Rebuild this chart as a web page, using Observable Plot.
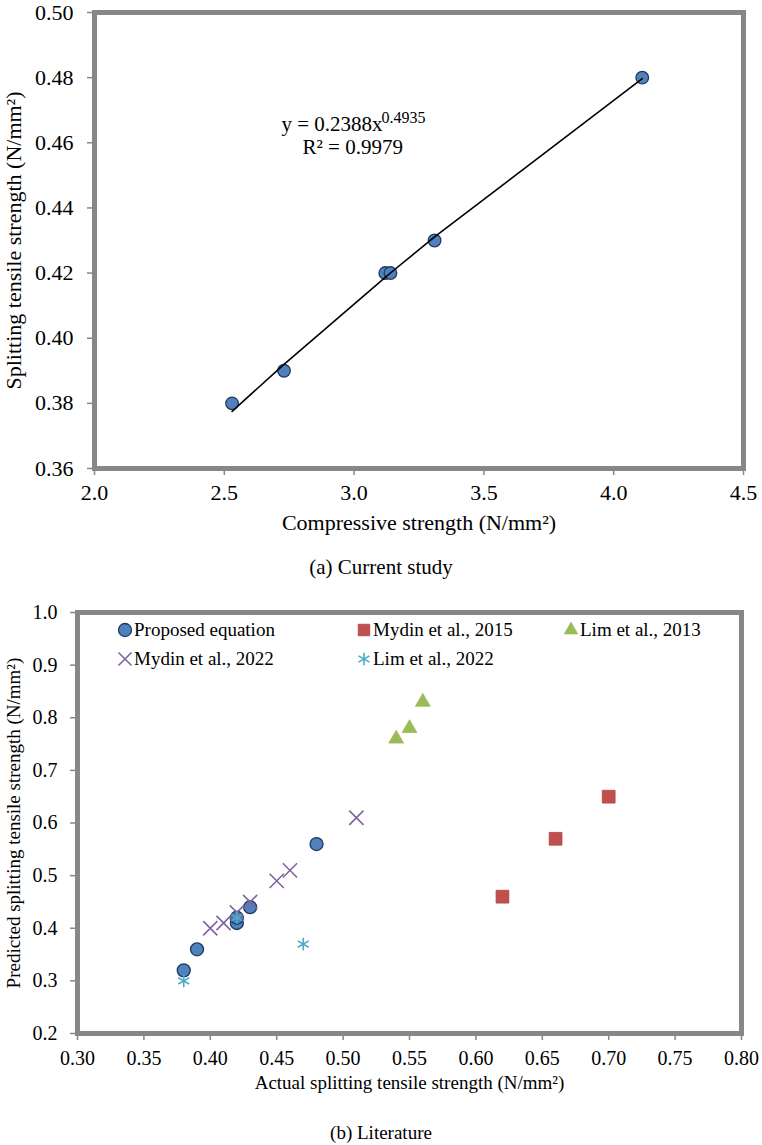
<!DOCTYPE html>
<html><head><meta charset="utf-8">
<script src="https://cdn.jsdelivr.net/npm/d3@7"></script>
<script src="https://cdn.jsdelivr.net/npm/@observablehq/plot@0.6"></script>
<style>
body{margin:0;background:#fff;}
#wrap{position:relative;width:762px;height:1145px;font-family:"Liberation Serif","Times New Roman",serif;color:#000;overflow:hidden;}
.plot{position:absolute;left:0;}
.cap{position:absolute;left:0;width:762px;text-align:center;line-height:22px;}
.leg{position:absolute;font-size:19px;line-height:20px;display:flex;align-items:center;white-space:nowrap;}
.leg svg{margin-right:1px;}
</style></head><body><div id="wrap"></div>
<script>
// ---------- (a) Current study ----------
const compressive = [2.53, 2.73, 3.12, 3.14, 3.31, 4.11];
const splitting   = [0.38, 0.39, 0.42, 0.42, 0.43, 0.48];
const fitA = 0.2388, fitB = 0.4935, fitR2 = 0.9979;
const topXTicks = [2.0, 2.5, 3.0, 3.5, 4.0, 4.5];
const topYTicks = [0.36, 0.38, 0.40, 0.42, 0.44, 0.46, 0.48, 0.50];
const topXLabel = "Compressive strength (N/mm²)";
const topYLabel = "Splitting tensile strength (N/mm²)";
const topCaption = "(a) Current study";

// ---------- (b) Literature ----------
const seriesNames = ["Proposed equation", "Mydin et al., 2015", "Lim et al., 2013", "Mydin et al., 2022", "Lim et al., 2022"];
const proposedActual  = [0.38, 0.39, 0.42, 0.42, 0.43, 0.48];
const proposedPred    = [0.32, 0.36, 0.41, 0.42, 0.44, 0.56];
const mydin2015Actual = [0.62, 0.66, 0.70];
const mydin2015Pred   = [0.46, 0.57, 0.65];
const lim2013Actual   = [0.54, 0.55, 0.56];
const lim2013Pred     = [0.76, 0.78, 0.83];
const mydin2022Actual = [0.40, 0.41, 0.42, 0.43, 0.45, 0.46, 0.51];
const mydin2022Pred   = [0.40, 0.41, 0.43, 0.45, 0.49, 0.51, 0.61];
const lim2022Actual   = [0.38, 0.42, 0.47];
const lim2022Pred     = [0.30, 0.42, 0.37];
const botXTicks = [0.30, 0.35, 0.40, 0.45, 0.50, 0.55, 0.60, 0.65, 0.70, 0.75, 0.80];
const botYTicks = [0.2, 0.3, 0.4, 0.5, 0.6, 0.7, 0.8, 0.9, 1.0];
const botXLabel = "Actual splitting tensile strength (N/mm²)";
const botYLabel = "Predicted splitting tensile strength (N/mm²)";
const botCaption = "(b) Literature";

const FONT = '"Liberation Serif","Times New Roman",serif';
const GRID = "#878787";
const BLUE = "#4f81bd", BLUE_EDGE = "#1f3a60", RED = "#c0504d", GREEN = "#9bbb59", PURPLE = "#8064a2", AQUA = "#4bacc6";

const wrap = document.getElementById("wrap");
const zip = (a, b) => a.map((v, i) => ({x: v, y: b[i]}));

// trend line evaluated from the fitted equation shown on the chart, at the measured x values
const trend = compressive.map(x => ({x, y: fitA * Math.pow(x, fitB)}));

const topPlot = Plot.plot({
  width: 762, height: 540,
  marginLeft: 94, marginRight: 19, marginTop: 12, marginBottom: 72,
  style: {fontFamily: FONT, fontSize: "22px", background: "transparent", overflow: "visible", color: "#000"},
  x: {domain: [2.0, 4.5]},
  y: {domain: [0.36, 0.50]},
  marks: [
    Plot.axisX({ticks: topXTicks, tickFormat: d => d.toFixed(1), tickSize: 7, tickPadding: 9, stroke: GRID, strokeWidth: 1.5, fill: "#000", label: null, fontSize: 22}),
    Plot.axisY({ticks: topYTicks, tickFormat: d => d.toFixed(2), tickSize: 7, tickPadding: 14, stroke: GRID, strokeWidth: 1.5, fill: "#000", label: null, fontSize: 22}),
    Plot.frame({stroke: GRID, strokeWidth: 5}),
    Plot.dot(zip(compressive, splitting), {x: "x", y: "y", r: 6.3, fill: BLUE, stroke: BLUE_EDGE, strokeWidth: 1.3}),
    Plot.line(trend, {x: "x", y: "y", stroke: "#000", strokeWidth: 1.6}),
    Plot.text([`y = ${fitA}x`], {frameAnchor: "top-left", textAnchor: "start", lineAnchor: "middle", dx: 187, dy: 112, fontSize: 21, fill: "#000"}),
    Plot.text([`${fitB}`], {frameAnchor: "top-left", textAnchor: "start", lineAnchor: "middle", dx: 287, dy: 105, fontSize: 16, fill: "#000"}),
    Plot.text([`R² = ${fitR2}`], {frameAnchor: "top-left", textAnchor: "start", lineAnchor: "middle", dx: 208, dy: 135, fontSize: 21, fill: "#000"}),
    Plot.text([topXLabel], {frameAnchor: "bottom", textAnchor: "middle", lineAnchor: "middle", dy: 54, fontSize: 22, fill: "#000"}),
    Plot.text([topYLabel], {frameAnchor: "left", textAnchor: "middle", lineAnchor: "middle", rotate: -90, dx: -81, fontSize: 22, fill: "#000"})
  ]
});
topPlot.classList.add("plot");
topPlot.style.top = "0px";
wrap.appendChild(topPlot);

const botTop = 590;
const botPlot = Plot.plot({
  width: 762, height: 520,
  marginLeft: 77, marginRight: 21, marginTop: 22, marginBottom: 77,
  style: {fontFamily: FONT, fontSize: "19px", background: "transparent", overflow: "visible", color: "#000"},
  x: {domain: [0.30, 0.80]},
  y: {domain: [0.2, 1.0]},
  marks: [
    Plot.axisX({ticks: botXTicks, tickFormat: d => d.toFixed(2), tickSize: 7, tickPadding: 10, stroke: GRID, strokeWidth: 1.5, fill: "#000", label: null, fontSize: 20}),
    Plot.axisY({ticks: botYTicks, tickFormat: d => d.toFixed(1), tickSize: 7, tickPadding: 13, stroke: GRID, strokeWidth: 1.5, fill: "#000", label: null, fontSize: 20}),
    Plot.frame({stroke: GRID, strokeWidth: 5}),
    Plot.dot(zip(proposedActual, proposedPred), {x: "x", y: "y", r: 6.5, fill: BLUE, stroke: BLUE_EDGE, strokeWidth: 1.3}),
    Plot.dot(zip(mydin2015Actual, mydin2015Pred), {x: "x", y: "y", symbol: "square", r: 7.2, fill: RED, stroke: "#b5403d", strokeWidth: 0.8}),
    Plot.dot(zip(lim2013Actual, lim2013Pred), {x: "x", y: "y", symbol: "triangle", r: 5.5, fill: GREEN, stroke: GREEN, strokeWidth: 0.8}),
    Plot.dot(zip(mydin2022Actual, mydin2022Pred), {x: "x", y: "y", symbol: "times", r: 6.5, stroke: PURPLE, strokeWidth: 1.6}),
    Plot.dot(zip(lim2022Actual, lim2022Pred), {x: "x", y: "y", symbol: "asterisk", r: 6, stroke: AQUA, strokeWidth: 1.6}),
    Plot.text([botXLabel], {frameAnchor: "bottom", textAnchor: "middle", lineAnchor: "middle", dy: 49, fontSize: 19, fill: "#000"}),
    Plot.text([botYLabel], {frameAnchor: "left", textAnchor: "middle", lineAnchor: "middle", rotate: -90, dx: -64, fontSize: 19, fill: "#000"})
  ]
});
botPlot.classList.add("plot");
botPlot.style.top = botTop + "px";
wrap.appendChild(botPlot);

// captions
function addCap(text, cy, fs) {
  const d = document.createElement("div");
  d.className = "cap";
  d.textContent = text;
  d.style.fontSize = fs + "px";
  d.style.top = (cy - 11) + "px";
  wrap.appendChild(d);
}
addCap(topCaption, 567, 21);
addCap(botCaption, 1133, 19);

// legend (inside frame of plot b)
const legendStyles = [
  {sym: d3.symbolCircle, r: 6.5, fill: BLUE, stroke: BLUE_EDGE, sw: 1.3},
  {sym: d3.symbolSquare, r: 6.5, fill: RED, stroke: "#b5403d", sw: 0.8},
  {sym: d3.symbolTriangle, r: 5, fill: GREEN, stroke: GREEN, sw: 0.8},
  {sym: d3.symbolTimes, r: 6, fill: "none", stroke: PURPLE, sw: 1.6},
  {sym: d3.symbolAsterisk, r: 6, fill: "none", stroke: AQUA, sw: 1.6}
];
const legendPos = [[117, 630], [356, 630], [563, 630], [117, 659], [356, 659]];
seriesNames.forEach((name, i) => {
  const s = legendStyles[i];
  const el = document.createElement("div");
  el.className = "leg";
  el.style.left = legendPos[i][0] + "px";
  el.style.top = (legendPos[i][1] - 10) + "px";
  const path = d3.symbol(s.sym, Math.PI * s.r * s.r)();
  el.innerHTML = `<svg width="16" height="16" viewBox="-8 -8 16 16"><path d="${path}" fill="${s.fill}" stroke="${s.stroke}" stroke-width="${s.sw}"/></svg>`;
  const t = document.createElement("span");
  t.textContent = name;
  el.appendChild(t);
  wrap.appendChild(el);
});
</script></body></html>
